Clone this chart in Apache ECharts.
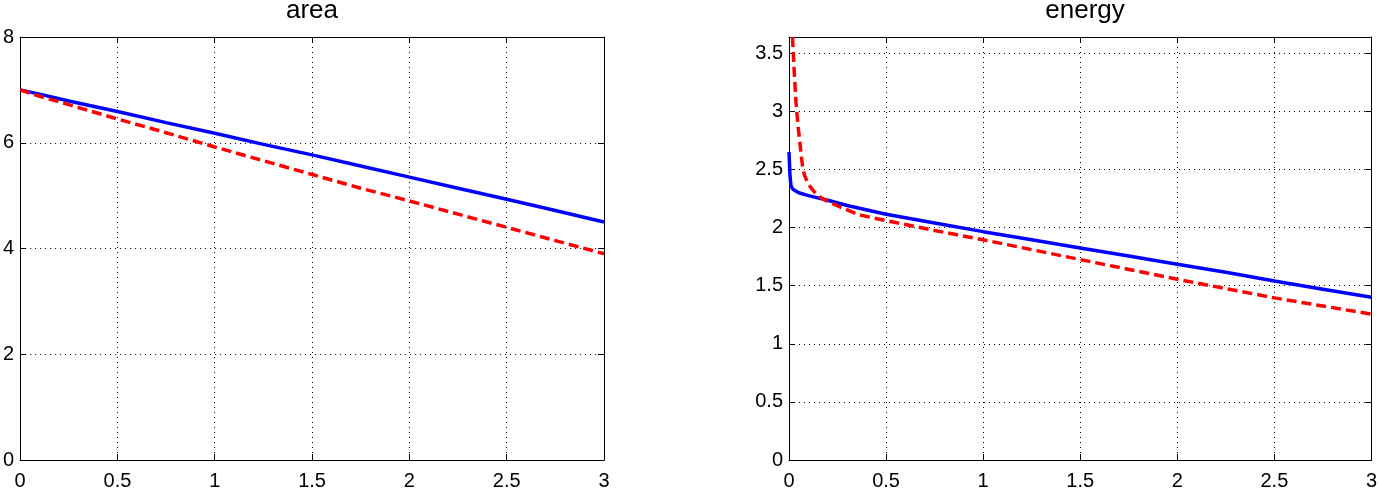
<!DOCTYPE html>
<html>
<head>
<meta charset="utf-8">
<script src="https://cdn.jsdelivr.net/npm/echarts@6/dist/echarts.min.js"></script>
<style>html,body{margin:0;padding:0;background:#fff;}#c{width:1380px;height:492px;}</style>
</head>
<body>
<div id="c"></div>
<script>
// ---- data ----
const titles = ['area', 'energy'];
const areaX = [0, 0.1, 0.25, 0.5, 0.75, 1.0, 1.25, 1.5, 1.75, 2.0, 2.25, 2.5, 2.75, 3.0];
const areaBlue = [7.0, 6.92, 6.79, 6.59, 6.38, 6.18, 5.97, 5.77, 5.56, 5.35, 5.14, 4.93, 4.72, 4.50];
const areaRed  = [7.0, 6.88, 6.72, 6.45, 6.19, 5.92, 5.66, 5.40, 5.14, 4.90, 4.65, 4.40, 4.15, 3.90];

const energyBlueX = [0, 0.005, 0.01, 0.02, 0.05, 0.1, 0.2, 0.3, 0.5, 0.75, 1.0, 1.25, 1.5, 1.75, 2.0, 2.25, 2.5, 2.75, 3.0];
const energyBlue  = [2.65, 2.45, 2.36, 2.33, 2.30, 2.275, 2.235, 2.19, 2.115, 2.04, 1.965, 1.895, 1.825, 1.755, 1.685, 1.615, 1.54, 1.47, 1.40];
const energyRedX = [0.018, 0.025, 0.03, 0.035, 0.04, 0.048, 0.055, 0.063, 0.072, 0.08, 0.095, 0.11, 0.122, 0.14, 0.166, 0.2, 0.26, 0.36, 0.5, 0.75, 1.0, 1.25, 1.5, 1.75, 2.0, 2.25, 2.5, 2.75, 3.0];
const energyRed  = [3.64, 3.4, 3.25, 3.1, 3.0, 2.85, 2.75, 2.62, 2.5, 2.45, 2.39, 2.35, 2.325, 2.29, 2.255, 2.225, 2.18, 2.11, 2.06, 1.975, 1.895, 1.81, 1.725, 1.64, 1.555, 1.475, 1.395, 1.325, 1.255];

const xTicks = {min: 0, max: 3, interval: 0.5};
const areaY = {min: 0, max: 8, interval: 2};
const energyY = {min: 0, max: 3.64, interval: 0.5};

// ---- chart ----
const font = '"Liberation Sans", Arial, Helvetica, sans-serif';
const pair = (xs, ys) => xs.map((x, i) => [x, ys[i]]);

const grids = [
  {left: 18, width: 586, top: 37, bottom: 32},
  {left: 789, width: 586, top: 37, bottom: 32}
];

function xAxisDef(gi, pos, labels, split) {
  return {
    type: 'value', gridIndex: gi, position: pos,
    min: xTicks.min, max: xTicks.max, interval: xTicks.interval,
    axisLine: {show: true, onZero: false, lineStyle: {color: '#000', width: 1}},
    axisTick: {show: true, inside: true, length: 6, lineStyle: {color: '#000'}},
    axisLabel: {show: labels, color: '#000', fontSize: 20, fontFamily: font, margin: 11},
    splitLine: {show: split, lineStyle: {color: '#000', width: 1, type: [1, 4]}}
  };
}
function yAxisDef(gi, pos, lim, labels, split) {
  return {
    type: 'value', gridIndex: gi, position: pos,
    min: lim.min, max: lim.max, interval: lim.interval,
    axisLine: {show: true, onZero: false, lineStyle: {color: '#000', width: 1}},
    axisTick: {show: true, inside: true, length: 6, lineStyle: {color: '#000'}},
    axisLabel: {show: labels, color: '#000', fontSize: 20, fontFamily: font, margin: 6,
      showMaxLabel: lim.max % lim.interval === 0, padding: [6, 0, 0, 0]},
    splitLine: {show: split, lineStyle: {color: '#000', width: 1, type: [1, 4]}}
  };
}

const option = {
  animation: false,
  backgroundColor: '#fff',
  title: [
    {text: titles[0], left: 307, top: -7, textAlign: 'center',
     textStyle: {fontSize: 26, fontWeight: 'normal', color: '#000', fontFamily: font}},
    {text: titles[1], left: 1080, top: -7, textAlign: 'center',
     textStyle: {fontSize: 26, fontWeight: 'normal', color: '#000', fontFamily: font}}
  ],
  grid: grids,
  xAxis: [
    xAxisDef(0, 'bottom', true, true),
    xAxisDef(0, 'top', false, false),
    xAxisDef(1, 'bottom', true, true),
    xAxisDef(1, 'top', false, false)
  ],
  yAxis: [
    yAxisDef(0, 'left', areaY, true, true),
    yAxisDef(0, 'right', areaY, false, false),
    yAxisDef(1, 'left', energyY, true, true),
    yAxisDef(1, 'right', energyY, false, false)
  ],
  series: [
    {type: 'line', xAxisIndex: 0, yAxisIndex: 0, data: pair(areaX, areaBlue), showSymbol: false,
     lineStyle: {color: '#0000ff', width: 3.5}, z: 3},
    {type: 'line', xAxisIndex: 0, yAxisIndex: 0, data: pair(areaX, areaRed), showSymbol: false,
     lineStyle: {color: '#ff0000', width: 3.5, type: [10, 5]}, z: 4},
    {type: 'line', xAxisIndex: 2, yAxisIndex: 2, data: pair(energyBlueX, energyBlue), showSymbol: false,
     lineStyle: {color: '#0000ff', width: 3.5}, z: 3},
    {type: 'line', xAxisIndex: 2, yAxisIndex: 2, data: pair(energyRedX, energyRed), showSymbol: false,
     lineStyle: {color: '#ff0000', width: 3.5, type: [10, 5]}, z: 4}
  ]
};

const chart = echarts.init(document.getElementById('c'), null, {renderer: 'canvas'});
chart.setOption(option);
</script>
</body>
</html>
